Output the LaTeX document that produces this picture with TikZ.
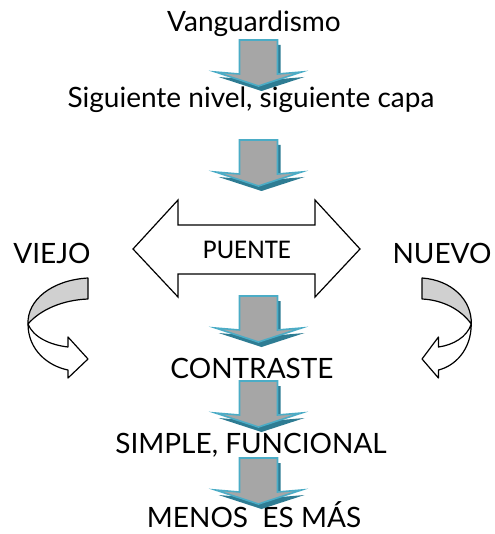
\documentclass[tikz,border=0pt]{standalone}
\usepackage{fontspec}
\setmainfont{Lato}
\newfontfamily\puentefont{Carlito}
\usetikzlibrary{positioning}
\definecolor{arrowfill}{HTML}{A6A6A6}
\definecolor{arrowedge}{HTML}{4BACC6}
\definecolor{arrowshade}{HTML}{2E7C93}
\definecolor{bandgrey}{HTML}{D0D0D0}

\tikzset{
  lbl/.style={anchor=base, inner sep=0pt, font=\fontsize{28}{32}\selectfont},
  curl/.style={draw=black, line width=1.2pt, line join=round},
  pics/downarr/.style={code={
    \fill[arrowshade, shift={(3,5)}] (-19,0) -- (19,0) -- (19,34) -- (43,32)
      -- (0,46) -- (-43,32) -- (-19,34) -- cycle;
    \draw[arrowedge, fill=arrowfill, line width=1.6pt, line join=miter]
      (-19,0) -- (19,0) -- (19,34) -- (43,32) -- (0,46) -- (-43,32)
      -- (-19,34) -- cycle;
  }}
}

\begin{document}
\begin{tikzpicture}[x=1pt, y=-1pt]
  \useasboundingbox (0,0) rectangle (494,534);

  % column of texts
  \node[lbl] (vang) at (254,32) {Vanguardismo};
  \node[lbl] (nivel) at (251,108) {Siguiente nivel, siguiente capa};
  \node[lbl] (contr) at (252,378) {CONTRASTE};
  \node[lbl] (simple) at (251,453) {SIMPLE, FUNCIONAL};
  \node[lbl] (menos) at (254,527) {MENOS\ \ ES MÁS};
  \node[lbl] (viejo) at (52,263) {VIEJO};
  \node[lbl] (nuevo) at (442,263) {NUEVO};

  % block arrows down the middle
  \foreach \t in {40,140,296,381,458}
    \pic at (258.5,\t) {downarr};

  % double arrow
  \draw[line width=1.2pt, fill=white, line join=miter]
    (133,249) -- (178,200) -- (178,225) -- (315,225) -- (315,200) -- (360,249)
    -- (315,297) -- (315,274) -- (178,274) -- (178,297) -- cycle;
  \node[anchor=base, inner sep=0pt, font=\puentefont\fontsize{27}{30}\selectfont]
    (puente) at (247,258) {PUENTE};

  % curled arrows
  \foreach \sx/\sc in {0/1, 494.2/-0.82} {
    \begin{scope}[xshift=\sx pt, xscale=\sc]
      \draw[curl, fill=white] (28,324) .. controls (28,350) and (48,366) .. (68,370)
        -- (68,378) -- (88,359) -- (68,337) -- (68,347)
        .. controls (50,345) and (33,337) .. (28,324) -- cycle;
      \draw[curl, fill=bandgrey] (88,278) .. controls (52,280) and (27,300) .. (28,324)
        .. controls (40,310) and (62,300) .. (88,299) -- cycle;
    \end{scope}
  }
\end{tikzpicture}
\end{document}
